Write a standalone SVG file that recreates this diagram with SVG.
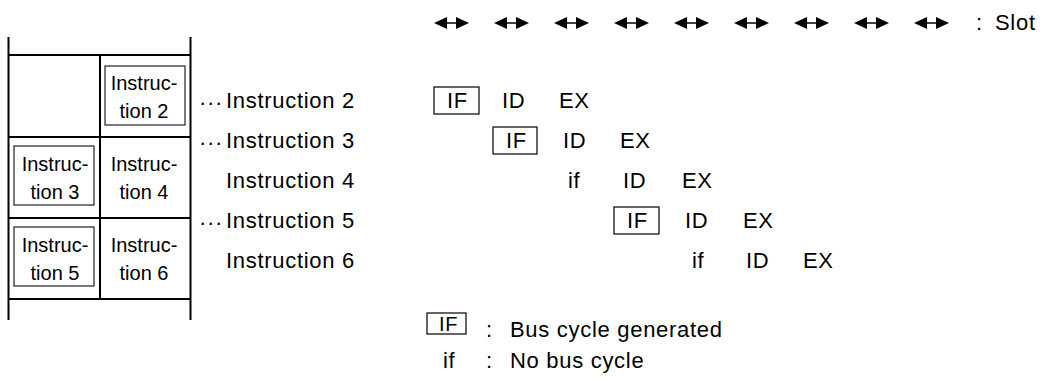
<svg xmlns="http://www.w3.org/2000/svg" width="1041" height="378" viewBox="0 0 1041 378">
<style>
text{font-family:"Liberation Sans",Arial,Helvetica,sans-serif;fill:#000}
.t{font-size:22px;letter-spacing:0.7px}
.c{font-size:20px;text-anchor:middle}
.grid{stroke:#000;stroke-width:2;fill:none}
.ibox{stroke:#222;stroke-width:1.2;fill:none}
.sbox{stroke:#000;stroke-width:1.2;fill:none}
</style>
<defs>
<g id="dbl">
<line x1="10" y1="0" x2="25" y2="0" stroke="#000" stroke-width="1.5"/>
<path d="M0,0 L13,-6 L13,6 Z M35,0 L22,-6 L22,6 Z" fill="#000"/>
</g>
</defs>
<g id="table">
<path class="grid" d="M8.5,37 V320 M190.5,37 V320 M100,55 V299 M8.5,55 H190.5 M8.5,137 H190.5 M8.5,218 H190.5 M8.5,299 H190.5"/>
</g>
<g id="cell-instr2">
<rect class="ibox" x="105" y="66" width="80" height="59"/>
<text class="c" x="144" y="90">Instruc-</text>
<text class="c" x="144" y="118">tion 2</text>
</g>
<g id="cell-instr3">
<rect class="ibox" x="14" y="146" width="80" height="59"/>
<text class="c" x="55" y="171">Instruc-</text>
<text class="c" x="55" y="199">tion 3</text>
</g>
<g id="cell-instr4">
<text class="c" x="144" y="171">Instruc-</text>
<text class="c" x="144" y="199">tion 4</text>
</g>
<g id="cell-instr5">
<rect class="ibox" x="14" y="227" width="80" height="59"/>
<text class="c" x="55" y="252">Instruc-</text>
<text class="c" x="55" y="280">tion 5</text>
</g>
<g id="cell-instr6">
<text class="c" x="144" y="252">Instruc-</text>
<text class="c" x="144" y="280">tion 6</text>
</g>
<g id="label-2"><text class="t" x="199" y="110">···</text><text class="t" x="226" y="108">Instruction 2</text></g>
<g id="label-3"><text class="t" x="199" y="150">···</text><text class="t" x="226" y="148">Instruction 3</text></g>
<g id="label-4"><text class="t" x="226" y="188">Instruction 4</text></g>
<g id="label-5"><text class="t" x="199" y="230">···</text><text class="t" x="226" y="228">Instruction 5</text></g>
<g id="label-6"><text class="t" x="226" y="268">Instruction 6</text></g>
<g id="pipe-2">
<rect class="sbox" x="434" y="87" width="45" height="27"/>
<text class="t" x="447" y="108">IF</text><text class="t" x="502" y="108">ID</text><text class="t" x="559" y="108">EX</text>
</g>
<g id="pipe-3">
<rect class="sbox" x="493" y="127" width="44" height="27"/>
<text class="t" x="506" y="148">IF</text><text class="t" x="563" y="148">ID</text><text class="t" x="620" y="148">EX</text>
</g>
<g id="pipe-4">
<text class="t" x="568" y="188">if</text><text class="t" x="623" y="188">ID</text><text class="t" x="682" y="188">EX</text>
</g>
<g id="pipe-5">
<rect class="sbox" x="614" y="207" width="45" height="27"/>
<text class="t" x="627" y="228">IF</text><text class="t" x="685" y="228">ID</text><text class="t" x="743" y="228">EX</text>
</g>
<g id="pipe-6">
<text class="t" x="692" y="268">if</text><text class="t" x="746" y="268">ID</text><text class="t" x="803" y="268">EX</text>
</g>
<g id="connectors">
<use href="#dbl" x="434" y="23"/>
<use href="#dbl" x="494" y="23"/>
<use href="#dbl" x="554" y="23"/>
<use href="#dbl" x="614" y="23"/>
<use href="#dbl" x="674" y="23"/>
<use href="#dbl" x="734" y="23"/>
<use href="#dbl" x="794" y="23"/>
<use href="#dbl" x="854" y="23"/>
<use href="#dbl" x="914" y="23"/>
</g>
<g id="slot-legend"><text class="t" x="976" y="30">:</text><text class="t" x="995" y="30">Slot</text></g>
<g id="legend">
<rect class="sbox" x="427" y="313" width="39" height="21"/>
<text class="t" x="439" y="331" style="font-size:20px">IF</text>
<text class="t" x="486" y="337">:</text>
<text class="t" x="510" y="337">Bus cycle generated</text>
<text class="t" x="443" y="368">if</text>
<text class="t" x="486" y="368">:</text>
<text class="t" x="510" y="368">No bus cycle</text>
</g>
</svg>
